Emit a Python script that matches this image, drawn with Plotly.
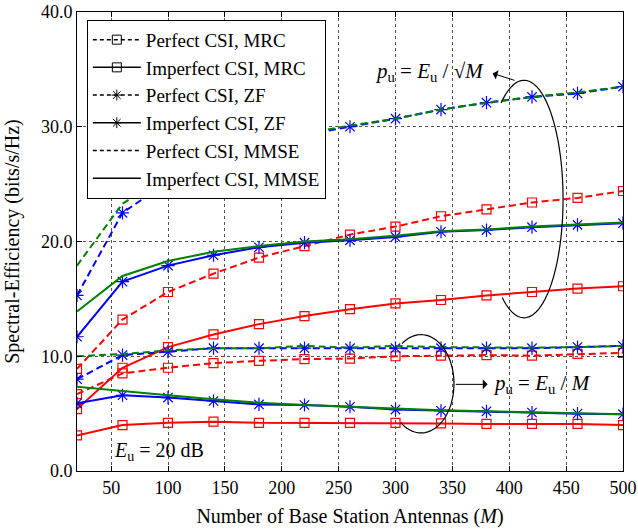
import numpy as np
import plotly.graph_objects as go

# ---------------- data ----------------
M = [20, 60, 100, 140, 180, 220, 260, 300, 340, 380, 420, 460, 500]

# p_u = E_u / sqrt(M)
mrc_perf_sqrt = [8.9, 13.2, 15.6, 17.2, 18.6, 19.6, 20.6, 21.3, 22.2, 22.8, 23.4, 23.8, 24.4]
mrc_imp_sqrt = [5.4, 9.0, 10.8, 11.9, 12.8, 13.5, 14.1, 14.6, 14.9, 15.3, 15.6, 15.9, 16.1]
zf_perf_sqrt = [15.3, 22.5, 25.2, 27.0, 28.3, 29.3, 30.0, 30.7, 31.5, 32.1, 32.6, 32.9, 33.5]
zf_imp_sqrt = [11.7, 16.5, 17.9, 18.8, 19.5, 19.9, 20.1, 20.4, 20.85, 21.0, 21.25, 21.45, 21.6]
mmse_perf_sqrt = [17.9, 23.3, 25.7, 27.3, 28.5, 29.4, 30.1, 30.7, 31.5, 32.1, 32.6, 33.0, 33.5]
mmse_imp_sqrt = [13.9, 17.0, 18.3, 19.1, 19.6, 20.0, 20.2, 20.5, 20.9, 21.05, 21.3, 21.5, 21.65]

# p_u = E_u / M
mrc_perf_M = [6.7, 8.5, 9.0, 9.4, 9.6, 9.75, 9.8, 10.0, 10.05, 10.1, 10.05, 10.2, 10.3]
mrc_imp_M = [3.1, 4.0, 4.2, 4.3, 4.2, 4.2, 4.2, 4.2, 4.15, 4.1, 4.1, 4.1, 4.0]
zf_perf_M = [8.0, 10.1, 10.4, 10.7, 10.7, 10.7, 10.7, 10.7, 10.7, 10.7, 10.7, 10.8, 10.9]
zf_imp_M = [5.9, 6.6, 6.4, 6.1, 5.8, 5.75, 5.6, 5.35, 5.25, 5.2, 5.1, 5.0, 4.95]
mmse_perf_M = [10.0, 10.2, 10.5, 10.7, 10.7, 10.9, 10.75, 10.9, 10.8, 10.75, 10.75, 10.8, 10.9]
mmse_imp_M = [7.35, 6.95, 6.6, 6.25, 5.95, 5.75, 5.6, 5.4, 5.3, 5.2, 5.1, 5.0, 4.95]

x_ticks = [50, 100, 150, 200, 250, 300, 350, 400, 450, 500]
y_ticks = [0, 10, 20, 30, 40]
y_tick_labels = ["0.0", "10.0", "20.0", "30.0", "40.0"]

legend_names = ["Perfect CSI, MRC", "Imperfect CSI, MRC", "Perfect CSI, ZF",
                "Imperfect CSI, ZF", "Perfect CSI, MMSE", "Imperfect CSI, MMSE"]

# ---------------- styles ----------------
RED, BLUE, GREEN = "#FF0000", "#0000FF", "#008000"
DASH = "7px,4px"
FONT = "Liberation Serif, Times New Roman, serif"

fig = go.Figure()

def add(y, color, dash, symbol, size):
    mode = "lines+markers" if symbol else "lines"
    fig.add_trace(go.Scatter(
        x=M, y=y, mode=mode, showlegend=False, hoverinfo="skip",
        line=dict(color=color, width=2, dash=dash),
        marker=dict(symbol=symbol or "circle", size=size, color=color,
                    line=dict(color=color, width=1.2)),
    ))

for grp in [
    (mrc_perf_sqrt, mrc_imp_sqrt, zf_perf_sqrt, zf_imp_sqrt, mmse_perf_sqrt, mmse_imp_sqrt),
    (mrc_perf_M, mrc_imp_M, zf_perf_M, zf_imp_M, mmse_perf_M, mmse_imp_M),
]:
    mp, mi, zp, zi, ep, ei = grp
    add(mp, RED, DASH, "square-open", 9)
    add(mi, RED, "solid", "square-open", 9)
    add(zp, BLUE, DASH, "asterisk-open", 11)
    add(zi, BLUE, "solid", "asterisk-open", 11)
    add(ep, GREEN, DASH, None, 0)
    add(ei, GREEN, "solid", None, 0)

# legend entries (black)
leg_styles = [(DASH, "square-open"), ("solid", "square-open"), (DASH, "asterisk-open"),
              ("solid", "asterisk-open"), (DASH, None), ("solid", None)]
for name, (dash, sym) in zip(legend_names, leg_styles):
    fig.add_trace(go.Scatter(
        x=[None], y=[None], name=name,
        mode="lines+markers" if sym else "lines",
        line=dict(color="black", width=1.5, dash="4px,3px" if dash != "solid" else "solid"),
        marker=dict(symbol=sym or "circle", size=9, color="black", line=dict(color="black", width=1)),
    ))

# ellipse arcs (annotation geometry)
def arc(cx, cy, a, b, t1, t2, n=80):
    t = np.radians(np.linspace(t1, t2, n))
    xs = cx + a * np.cos(t)
    ys = cy + b * np.sin(t)
    return "M " + " L ".join(f"{x:.3f},{y:.3f}" for x, y in zip(xs, ys))

fig.add_shape(type="path", xref="x", yref="y", path=arc(413, 23.7, 34.3, 10.35, -124, 126),
              line=dict(color="black", width=1.2))
fig.add_shape(type="path", xref="x", yref="y", path=arc(322.4, 7.6, 29.0, 4.28, -128, 125),
              line=dict(color="black", width=1.2))

# arrows
fig.add_annotation(x=385.4, y=34.65, ax=406, ay=34.0, xref="x", yref="y", axref="x", ayref="y",
                   text="", showarrow=True, arrowhead=1, arrowsize=1.6, arrowwidth=1, arrowcolor="black")
fig.add_annotation(x=381, y=7.55, ax=351.6, ay=7.55, xref="x", yref="y", axref="x", ayref="y",
                   text="", showarrow=True, arrowhead=1, arrowsize=1.6, arrowwidth=1, arrowcolor="black")

# text labels
fig.add_annotation(x=329.5, y=34.8, xref="x", yref="y", showarrow=False,
                   text="<i>p</i><sub>u</sub> = <i>E</i><sub>u</sub> / √<i>M</i>",
                   font=dict(family=FONT, size=21, color="black"))
fig.add_annotation(x=384, y=7.55, xref="x", yref="y", showarrow=False, xanchor="left",
                   text="<i>p</i><sub>u</sub> = <i>E</i><sub>u</sub> / <i>M</i>",
                   font=dict(family=FONT, size=21, color="black"))
fig.add_annotation(x=51, y=1.7, xref="x", yref="y", showarrow=False, xanchor="left",
                   text="<i>E</i><sub>u</sub> = 20 dB",
                   font=dict(family=FONT, size=20, color="black"))

axis_common = dict(
    showline=True, linecolor="black", linewidth=1, mirror="ticks",
    ticks="inside", ticklen=5, tickcolor="black",
    showgrid=True, gridcolor="#555555", griddash="dot", gridwidth=1,
    zeroline=False, tickfont=dict(family=FONT, size=18, color="black"),
    automargin=False, ticklabeloverflow="allow",
)

fig.update_layout(
    width=638, height=531,
    margin=dict(l=77, r=15, t=12, b=60),
    paper_bgcolor="white", plot_bgcolor="white",
    font=dict(family=FONT, color="black"),
    xaxis=dict(range=[20, 500], tickvals=x_ticks,
               title=dict(text="Number of Base Station Antennas (<i>M</i>)",
                          font=dict(family=FONT, size=20), standoff=12),
               **axis_common),
    yaxis=dict(range=[0, 40], tickvals=y_ticks, ticktext=y_tick_labels,
               title=dict(text="Spectral-Efficiency (bits/s/Hz)",
                          font=dict(family=FONT, size=20)),
               **axis_common),
    legend=dict(x=0.018, y=0.983, xanchor="left", yanchor="top",
                bgcolor="white", bordercolor="black", borderwidth=1,
                font=dict(family=FONT, size=19, color="black"),
                itemwidth=48),
    showlegend=True,
)

# remove the page's default 8px body margin so the figure fills the window exactly
fig.write_html("out.html", config={"displayModeBar": False},
               post_script="document.body.style.margin='0';document.body.style.overflow='hidden';")
